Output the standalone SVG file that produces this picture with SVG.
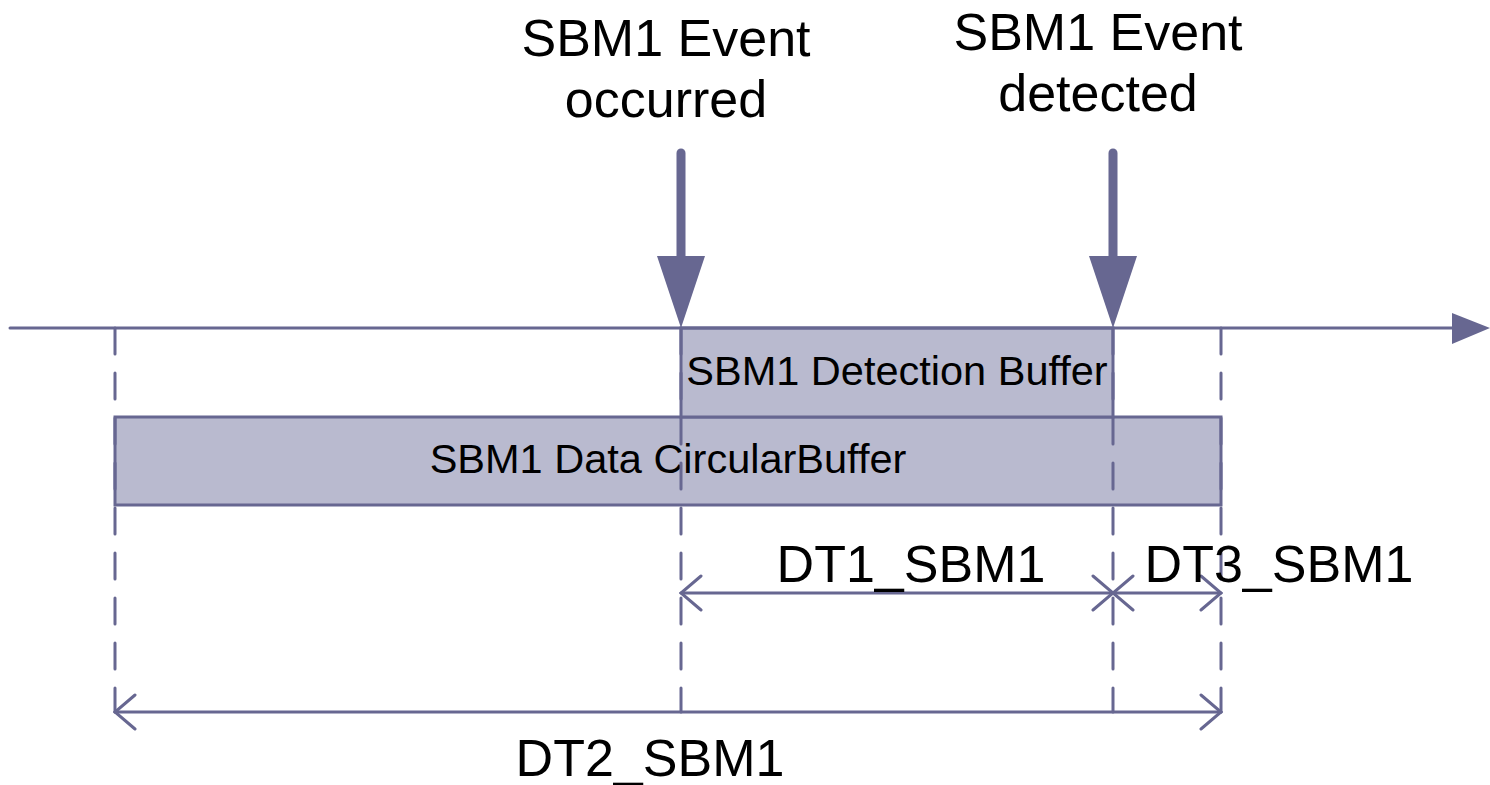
<svg xmlns="http://www.w3.org/2000/svg" width="1490" height="785" viewBox="0 0 1490 785">
<defs>
<style>
.ln{stroke:#676791;stroke-width:3;fill:none;stroke-linecap:round}
.dash{stroke:#676791;stroke-width:3;fill:none;stroke-linecap:round;stroke-dasharray:26 19}
.box{fill:#b9bacf;stroke:#676791;stroke-width:3}
.big{font-family:"Liberation Sans",Arial,sans-serif;font-size:52px;fill:#000;text-anchor:middle}
.mid{font-family:"Liberation Sans",Arial,sans-serif;font-size:41.5px;fill:#000;text-anchor:middle}
.head{fill:#676791}
</style>
<marker id="chev" viewBox="-22 -20 24 40" refX="0" refY="0" markerWidth="24" markerHeight="40" markerUnits="userSpaceOnUse" orient="auto-start-reverse">
<path d="M-20,-17 L0,0 L-20,17" fill="none" stroke="#676791" stroke-width="3" stroke-linecap="round"/>
</marker>
</defs>
<rect width="1490" height="785" fill="#fff"/>
<g id="circular-buffer">
<rect class="box" x="115" y="417" width="1106" height="88"/>
<text class="mid" x="668" y="473">SBM1 Data CircularBuffer</text>
</g>
<g id="detection-buffer">
<rect class="box" x="681" y="328" width="432" height="89"/>
<text class="mid" x="897" y="385">SBM1 Detection Buffer</text>
</g>
<g id="connectors">
<line class="ln" x1="10" y1="328" x2="1455" y2="328"/>
<path class="head" d="M1452,313 L1490,328 L1452,344 Z"/>
<line class="dash" x1="115" y1="328" x2="115" y2="712"/>
<line class="dash" x1="681" y1="328" x2="681" y2="712"/>
<line class="dash" x1="1113" y1="328" x2="1113" y2="712"/>
<line class="dash" x1="1221" y1="328" x2="1221" y2="712"/>
<line class="ln" x1="681" y1="593" x2="1113" y2="593" marker-start="url(#chev)" marker-end="url(#chev)"/>
<line class="ln" x1="1113" y1="593" x2="1221" y2="593" marker-start="url(#chev)" marker-end="url(#chev)"/>
<line class="ln" x1="115" y1="712" x2="1221" y2="712" marker-start="url(#chev)" marker-end="url(#chev)"/>
</g>
<g id="event-occurred">
<line x1="681" y1="153" x2="681" y2="262" stroke="#676791" stroke-width="9" stroke-linecap="round"/>
<path class="head" d="M657,256 L705,256 L681,328 Z"/>
<text class="big" x="666" y="56">SBM1 Event</text>
<text class="big" x="666" y="117">occurred</text>
</g>
<g id="event-detected">
<line x1="1113" y1="153" x2="1113" y2="262" stroke="#676791" stroke-width="9" stroke-linecap="round"/>
<path class="head" d="M1089,256 L1137,256 L1113,328 Z"/>
<text class="big" x="1098" y="50">SBM1 Event</text>
<text class="big" x="1098" y="111">detected</text>
</g>
<g id="labels">
<text class="big" x="911" y="582">DT1_SBM1</text>
<text class="big" x="1279" y="582">DT3_SBM1</text>
<text class="big" x="650" y="776">DT2_SBM1</text>
</g>
</svg>
